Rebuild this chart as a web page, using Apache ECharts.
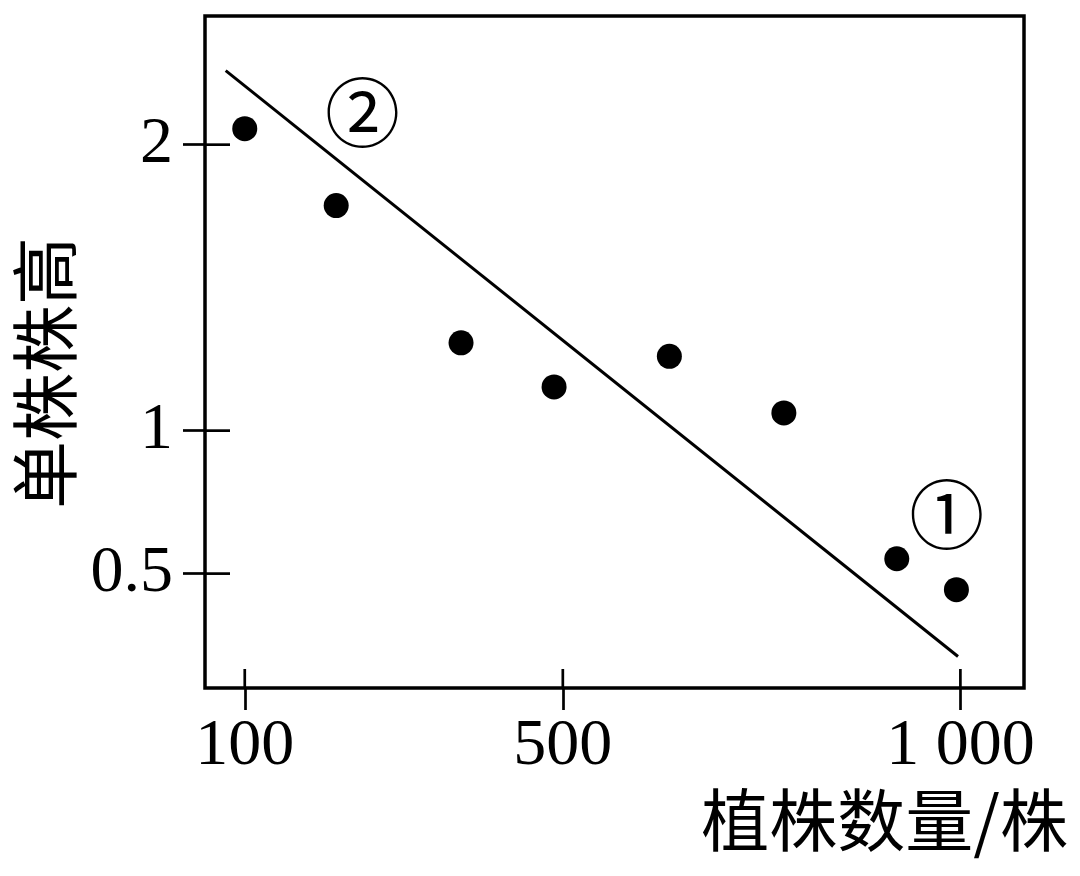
<!DOCTYPE html>
<html>
<head>
<meta charset="utf-8">
<script src="https://cdn.jsdelivr.net/npm/echarts@6/dist/echarts.min.js"></script>
<style>
  html, body { margin: 0; padding: 0; background: #fff; }
  #chart { width: 1080px; height: 876px; }
</style>
</head>
<body>
<div id="chart"></div>
<script>
// tick values shown on each axis
const xTicks = [100, 500, 1000];
const yTicks = [0.5, 1, 2];

// 植株数量 vs 单株株高
const plantCount = [100, 215, 372, 489, 634, 778, 920, 995];
const plantHeight = [2.056, 1.787, 1.307, 1.153, 1.26, 1.062, 0.552, 0.444];

// fitted trend line end points
const trendX = [76, 997];
const trendY = [2.259, 0.21];

// circled markers ② and ①
const markX = [248, 983];
const markY = [2.112, 0.706];
const markText = ['②', '①'];

const serif = '"Liberation Serif", "DejaVu Serif", serif';
const cjk = '"Noto Sans CJK SC", sans-serif';

const chart = echarts.init(document.getElementById('chart'));

const xMin = 50, xMax = 1080, yMin = 0.1, yMax = 2.45;
const tickStyle = { color: '#000', width: 2.7 };

// inner half of the crossing ticks, placed through the axis scales
function innerTicks(dim, len) {
    return {
        type: 'custom',
        silent: true,
        clip: false,
        data: (dim === 'x' ? xTicks : yTicks).map(v => [v]),
        renderItem: (params, api) => {
            const cs = params.coordSys;
            if (dim === 'x') {
                const px = api.coord([api.value(0), yMin])[0];
                const py = cs.y + cs.height;
                return { type: 'line', shape: { x1: px, y1: py, x2: px, y2: py - len },
                         style: { stroke: '#000', lineWidth: tickStyle.width } };
            }
            const py = api.coord([xMin, api.value(0)])[1];
            const px = cs.x;
            return { type: 'line', shape: { x1: px, y1: py, x2: px + len, y2: py },
                     style: { stroke: '#000', lineWidth: tickStyle.width } };
        }
    };
}

const option = {
    backgroundColor: '#fff',
    animation: false,
    grid: {
        left: 205, right: 56, top: 16, bottom: 188,
        show: true, borderColor: '#000', borderWidth: 3.5, backgroundColor: 'transparent'
    },
    xAxis: {
        type: 'value', min: xMin, max: xMax, position: 'bottom',
        axisLine: { show: false, onZero: false },
        splitLine: { show: false },
        axisTick: { show: true, inside: false, length: 22, lineStyle: tickStyle, customValues: xTicks },
        axisLabel: {
            show: true, margin: 26, color: '#000', fontFamily: serif, fontSize: 66,
            customValues: xTicks,
            formatter: v => v === 1000 ? '1 000' : String(v)
        }
    },
    yAxis: {
        type: 'value', min: yMin, max: yMax, position: 'left',
        axisLine: { show: false, onZero: false },
        splitLine: { show: false },
        axisTick: { show: true, inside: false, length: 22, lineStyle: tickStyle, customValues: yTicks },
        axisLabel: {
            show: true, margin: 32, color: '#000', fontFamily: serif, fontSize: 66,
            customValues: yTicks,
            formatter: v => String(v)
        },
        name: '单株株高',
        nameLocation: 'middle',
        nameRotate: 90,
        nameGap: 125,
        nameTextStyle: { color: '#000', fontFamily: cjk, fontSize: 68, padding: [0, 42, 0, 0] }
    },
    graphic: [{
        type: 'text',
        right: 12,
        top: 786,
        style: { text: '植株数量/株', fill: '#000', font: '68px ' + cjk }
    }],
    series: [
        innerTicks('x', 19),
        innerTicks('y', 25),
        {
            name: '趋势',
            type: 'line',
            data: trendX.map((x, i) => [x, trendY[i]]),
            symbol: 'none',
            lineStyle: { color: '#000', width: 3 },
            silent: true
        },
        {
            name: '株高',
            type: 'scatter',
            data: plantCount.map((x, i) => [x, plantHeight[i]]),
            symbol: 'circle',
            symbolSize: 25,
            itemStyle: { color: '#000', opacity: 1 }
        },
        {
            name: '标注',
            type: 'scatter',
            data: markX.map((x, i) => ({ value: [x, markY[i]], label: { formatter: markText[i] } })),
            symbolSize: 0,
            itemStyle: { opacity: 1 },
            label: {
                show: true, position: 'inside', color: '#000',
                fontFamily: cjk, fontSize: 75
            },
            silent: true
        }
    ]
};

chart.setOption(option);
</script>
</body>
</html>
